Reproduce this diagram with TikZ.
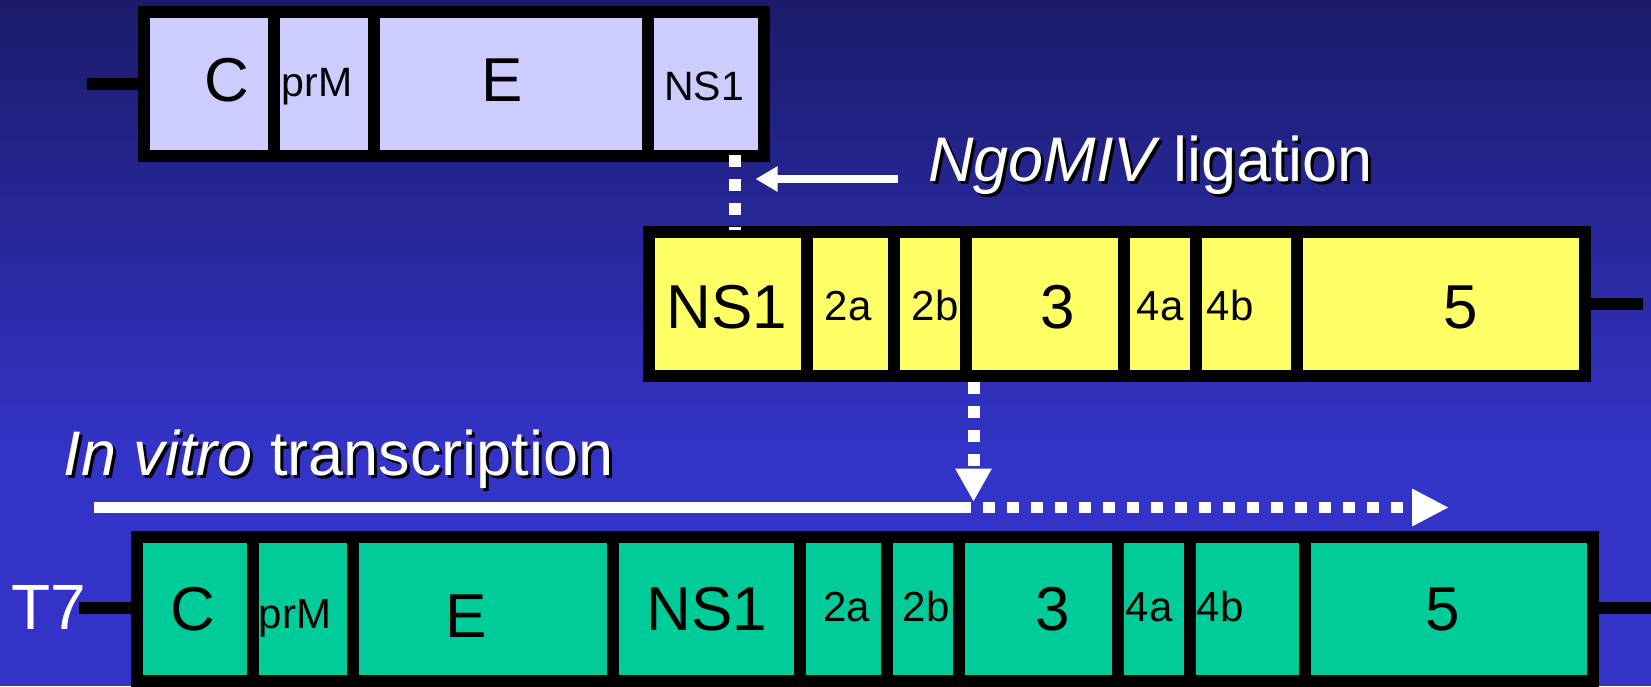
\documentclass[tikz,border=0pt]{standalone}
\usepackage{fontspec}
\setmainfont{Liberation Sans}
\usetikzlibrary{arrows.meta,calc}
\definecolor{bgtop}{RGB}{27,27,106}
\definecolor{bgbot}{RGB}{51,51,199}
\definecolor{lav}{RGB}{204,204,255}
\definecolor{yel}{RGB}{255,255,102}
\definecolor{grn}{RGB}{0,204,153}
\begin{document}
\begin{tikzpicture}[x=1pt,y=-1pt,
  frame/.style={fill=black,draw=none,inner sep=0pt,minimum height=156pt},
  cell/.style={draw=none,inner sep=0pt,minimum height=132pt},
  big/.style={inner sep=0pt,anchor=base,font=\fontsize{62}{62}\selectfont},
  small/.style={inner sep=0pt,anchor=base,font=\fontsize{42}{42}\selectfont},
  mid/.style={inner sep=0pt,anchor=base,font=\fontsize{41}{41}\selectfont},
  stub/.style={black,line width=12pt},
  wdash/.style={white,line width=12pt,dash pattern=on 12pt off 12pt},
  caption/.style={inner sep=0pt,anchor=base west,font=\fontsize{63}{63}\selectfont,text=white},
  capshadow/.style={caption,text=black},
]
% background
\useasboundingbox (0,0) rectangle (1651,686);
\shade[top color=bgtop,bottom color=bgbot] (0,0) rectangle (1651,450);
\fill[bgbot] (0,449) rectangle (1651,686);

% ---- C-prM-E-NS1 fragment ----
\node[frame,minimum width=632pt] (top) at (454,84) {};
\node[cell,fill=lav,minimum width=118pt] (tC) at (209,84) {};
\node[cell,fill=lav,minimum width=88pt] (tprM) at (324,84) {};
\node[cell,fill=lav,minimum width=262pt] (tE) at (511,84) {};
\node[cell,fill=lav,minimum width=104pt] (tNS1) at (706,84) {};
\node[big] (tCt) at (227,101.7) {C};
\node[mid] (tprMt) at (317,96.7) {prM};
\node[big] (tEt) at (502,101.7) {E};
\node[mid] (tNS1t) at (704,100) {NS1};
\coordinate (topstub) at (87,84);
\draw[stub] (top.west) -- (topstub);

% ---- NS1-...-5 fragment ----
\node[frame,minimum width=948pt] (mid) at (1117,304) {};
\node[cell,fill=yel,minimum width=146pt] (mNS1) at (728,304) {};
\node[cell,fill=yel,minimum width=75pt] (m2a) at (850.5,304) {};
\node[cell,fill=yel,minimum width=60pt] (m2b) at (930,304) {};
\node[cell,fill=yel,minimum width=146pt] (m3) at (1045,304) {};
\node[cell,fill=yel,minimum width=60pt] (m4a) at (1160,304) {};
\node[cell,fill=yel,minimum width=89pt] (m4b) at (1246.5,304) {};
\node[cell,fill=yel,minimum width=276pt] (m5) at (1441,304) {};
\node[big] (mNS1t) at (727,328.3) {NS1};
\node[small] (m2at) at (848,320) {2a};
\node[small] (m2bt) at (935,320) {2b};
\node[big] (m3t) at (1058,328.3) {3};
\node[small] (m4at) at (1160,320) {4a};
\node[small] (m4bt) at (1230,320) {4b};
\node[big] (m5t) at (1461,328.3) {5};
\coordinate (midstub) at (1643,304);
\draw[stub] (mid.east) -- (midstub);

% ---- full-length clone ----
\node[frame,minimum width=1468pt] (full) at (865,609) {};
\node[cell,fill=grn,minimum width=104pt] (fC) at (195,609) {};
\node[cell,fill=grn,minimum width=88pt] (fprM) at (303,609) {};
\node[cell,fill=grn,minimum width=248pt] (fE) at (483,609) {};
\node[cell,fill=grn,minimum width=175pt] (fNS1) at (706.5,609) {};
\node[cell,fill=grn,minimum width=75pt] (f2a) at (843.5,609) {};
\node[cell,fill=grn,minimum width=60pt] (f2b) at (923,609) {};
\node[cell,fill=grn,minimum width=147pt] (f3) at (1038.5,609) {};
\node[cell,fill=grn,minimum width=60pt] (f4a) at (1154,609) {};
\node[cell,fill=grn,minimum width=103pt] (f4b) at (1247.5,609) {};
\node[cell,fill=grn,minimum width=276pt] (f5) at (1449,609) {};
\node[big] (fCt) at (193,630) {C};
\node[small] (fprMt) at (295,628) {prM};
\node[big] (fEt) at (466,637) {E};
\node[big] (fNS1t) at (707,630) {NS1};
\node[small] (f2at) at (846.5,621) {2a};
\node[small] (f2bt) at (926,621) {2b};
\node[big] (f3t) at (1053,630) {3};
\node[small] (f4at) at (1149,621) {4a};
\node[small] (f4bt) at (1220,621) {4b};
\node[big] (f5t) at (1443,630) {5};
\coordinate (fullstubL) at (79,608);
\coordinate (fullstubR) at (1651,608);
\draw[stub] (full.west |- fullstubL) -- (fullstubL);
\draw[stub] (full.east |- fullstubR) -- (fullstubR);
\node[inner sep=0pt,anchor=base west,font=\fontsize{64}{64}\selectfont,text=white] (T7) at (11.6,629.3) {T7};

% ---- ligation ----
\coordinate (ligtop) at (735,155);
\coordinate (ligbot) at (735,230);
\draw[wdash] (ligtop) -- (ligbot);
\node[capshadow] (ligS) at (931,184.7) {\itshape NgoMIV\upshape{} ligation};
\node[caption] (lig) at (928,181.7) {\itshape NgoMIV\upshape{} ligation};
\coordinate (ligtail) at (898,179);
\coordinate (ligtip) at (755.5,179);
\draw[white,line width=8pt,-{Triangle[length=22pt,width=24pt]}] (ligtail) -- (ligtip);

% ---- in vitro transcription ----
\node[capshadow] (ivtS) at (66.5,478) {\itshape In vitro\upshape{} transcription};
\node[caption] (ivt) at (63.5,475) {\itshape In vitro\upshape{} transcription};
\coordinate (runstart) at (94,507.5);
\coordinate (junction) at (973.5,507.5);
\coordinate (runend) at (1449,507.5);
\draw[white,line width=11.6pt] (runstart) -- (971,507.5);
\draw[wdash,line width=11.6pt,dash phase=12pt,-{Triangle[length=37pt,width=35pt]}] (971,507.5) -- (runend);
\draw[wdash,-{Triangle[length=33pt,width=34pt]}] (mid.south -| junction) -- (973.5,501.7);
\end{tikzpicture}
\end{document}
